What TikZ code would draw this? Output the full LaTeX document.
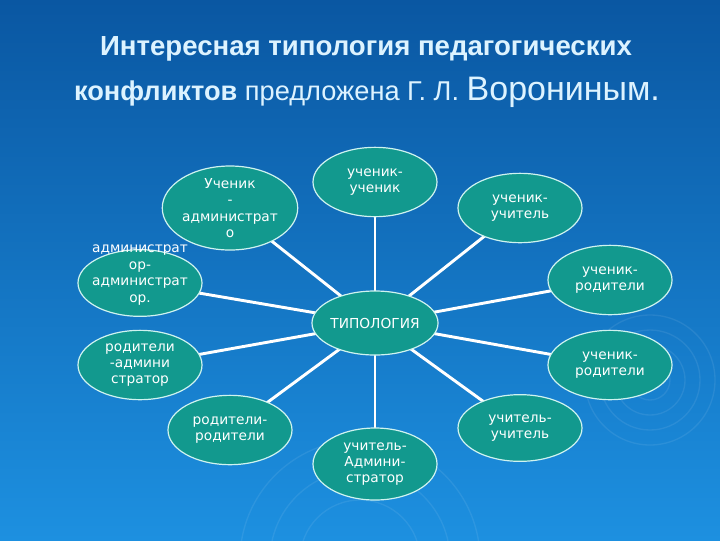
\documentclass[tikz,border=0pt]{standalone}
\usepackage{fontspec}
\setmainfont{DejaVu Sans}
\newfontfamily\titlefont{Liberation Sans}
\usetikzlibrary{shapes.geometric}
\pgfdeclarelayer{bg}
\pgfsetlayers{bg,main}
\definecolor{bgtop}{HTML}{0A57A2}
\definecolor{bgbot}{HTML}{1D90E0}
\definecolor{teal}{HTML}{12998E}
\definecolor{rim}{HTML}{CFF3F0}
\definecolor{titlec}{HTML}{DDF3FF}
\tikzset{
  ell/.style={ellipse, draw=rim, line width=0.9pt, fill=teal, text=white,
    minimum width=93pt, minimum height=52pt, inner sep=0pt, align=center,
    font=\fontsize{10.3}{12.3}\selectfont},
  conn/.style={draw=white, line width=2.2pt},
  ripple/.style={draw=white, opacity=0.08, line width=1pt}
}
\begin{document}
\begin{tikzpicture}[x=0.75pt,y=-0.75pt]
\useasboundingbox (0,0) rectangle (720,540);
\begin{pgfonlayer}{bg}
\shade[top color=bgtop, bottom color=bgbot] (0,0) rectangle (720,540);
\begin{scope}
\clip (0,0) rectangle (720,540);
\foreach \r in {20,35,50,65} {\draw[ripple] (650,380) circle (\r);}
\foreach \r in {60,90,120} {\draw[ripple] (360,560) circle (\r);}
\end{scope}
\end{pgfonlayer}

\node[titlec, anchor=base, font=\titlefont\bfseries\fontsize{20.7}{24}\selectfont] (t1) at (366,55) {Интересная типология педагогических};
\node[titlec, anchor=base, font=\titlefont\fontsize{20.4}{24}\selectfont] (t2) at (367,100) {\textbf{конфликтов} предложена Г. Л. {\fontsize{25.5}{28}\selectfont Ворониным.}};

\node[ell, minimum height=48pt] (c) at (375,323) {ТИПОЛОГИЯ};
\node[ell] (n1) at (375,182) {ученик-\\ученик};
\node[ell, minimum height=55pt] (n2) at (230,208) {Ученик\\-\\администрат\\о};
\node[ell] (n3) at (520,208) {ученик-\\учитель};
\node[ell] (n4) at (610,280) {ученик-\\родители};
\node[ell] (n5) at (610,365) {ученик-\\родители};
\node[ell, minimum height=50pt] (n6) at (520,428) {учитель-\\учитель};
\node[ell, minimum height=54pt] (n7) at (375,464) {учитель-\\Админи-\\стратор};
\node[ell] (n8) at (230,430) {родители-\\родители};
\node[ell] (n9) at (140,365) {родители\\-админи\\стратор};
\node[ell, minimum height=50pt] (n10) at (140,283) {};
\node[text=white, align=center, font=\fontsize{10.3}{12.6}\selectfont] (n10t) at (140,275) {администрат\\ор-\\администрат\\ор.};

\begin{pgfonlayer}{bg}
\foreach \n in {n1,n2,n3,n4,n5,n6,n7,n8,n9,n10} {\draw[conn] (c.center) -- (\n.center);}
\end{pgfonlayer}
\end{tikzpicture}
\end{document}
